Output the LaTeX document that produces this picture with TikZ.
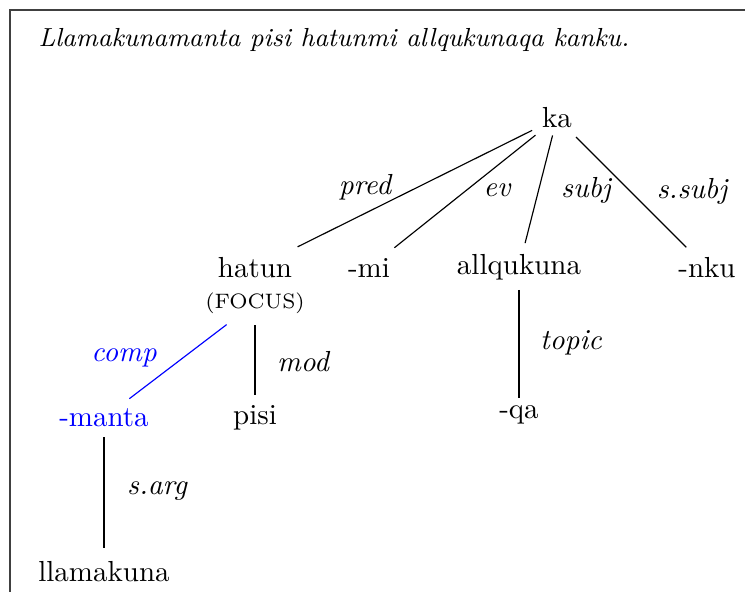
\documentclass[tikz,border=0pt]{standalone}
\begin{document}
\begin{tikzpicture}[x=0.3448pt,y=-0.3448pt,
  word/.style={inner sep=0pt, outer sep=0pt, font=\normalsize},
  rel/.style={inner sep=0pt, font=\itshape},
  dep/.style={line width=0.4pt},
  hl/.style={blue}]
\useasboundingbox (0,0) rectangle (745,592);
\draw[black!75, line width=0.5pt] (10,600) -- (10,10) -- (760,10);
\node[anchor=base west, inner sep=0pt, font=\small\itshape] (title) at (38,47) {Llamakunamanta pisi hatunmi allqukunaqa kanku.};
% words
\node[word] (ka) at (557,118) {ka};
\node[word] (hatun) at (255,268) {hatun};
\node[word, font=\fontsize{7.2}{9}\selectfont] (focus) at (255,303) {(FOCUS)};
\node[word] (mi) at (369,268) {-mi};
\node[word] (allqu) at (519,267) {allqukuna};
\node[word] (nku) at (707,268) {-nku};
\node[word, hl] (manta) at (104,418) {-manta};
\node[word] (pisi) at (255,418) {pisi};
\node[word] (qa) at (519,415) {-qa};
\node[word] (llama) at (104,572) {llamakuna};
% edges
\draw[dep, shorten <=9.6pt, shorten >=16.4pt] (ka.center) -- (hatun.center);
\draw[dep, shorten <=9.5pt, shorten >=11.2pt] (ka.center) -- (mi.center);
\draw[dep, shorten <=6.2pt, shorten >=8.5pt] (ka.center) -- (allqu.center);
\draw[dep, shorten <=9.3pt, shorten >=10.1pt] (ka.center) -- (nku.center);
\draw[dep, hl, shorten <=12.3pt, shorten >=11pt] (focus.center) -- (manta.center);
\draw[dep, shorten <=7.6pt, shorten >=7.9pt] (focus.center) -- (pisi.center);
\draw[dep, shorten <=7.9pt, shorten >=5.9pt] (allqu.center) -- (qa.center);
\draw[dep, shorten <=6.6pt, shorten >=8.3pt] (manta.center) -- (llama.center);
% labels
\node[rel] (lpred) at (365,187) {pred};
\node[rel] (lev) at (497,190) {ev};
\node[rel] (lsubj) at (586,190) {subj};
\node[rel] (lssubj) at (692,191) {s.subj};
\node[rel, hl] (lcomp) at (124,358) {comp};
\node[rel] (lmod) at (303,362) {mod};
\node[rel] (ltopic) at (571,343) {topic};
\node[rel] (lsarg) at (157,491) {s.arg};
\end{tikzpicture}
\end{document}
